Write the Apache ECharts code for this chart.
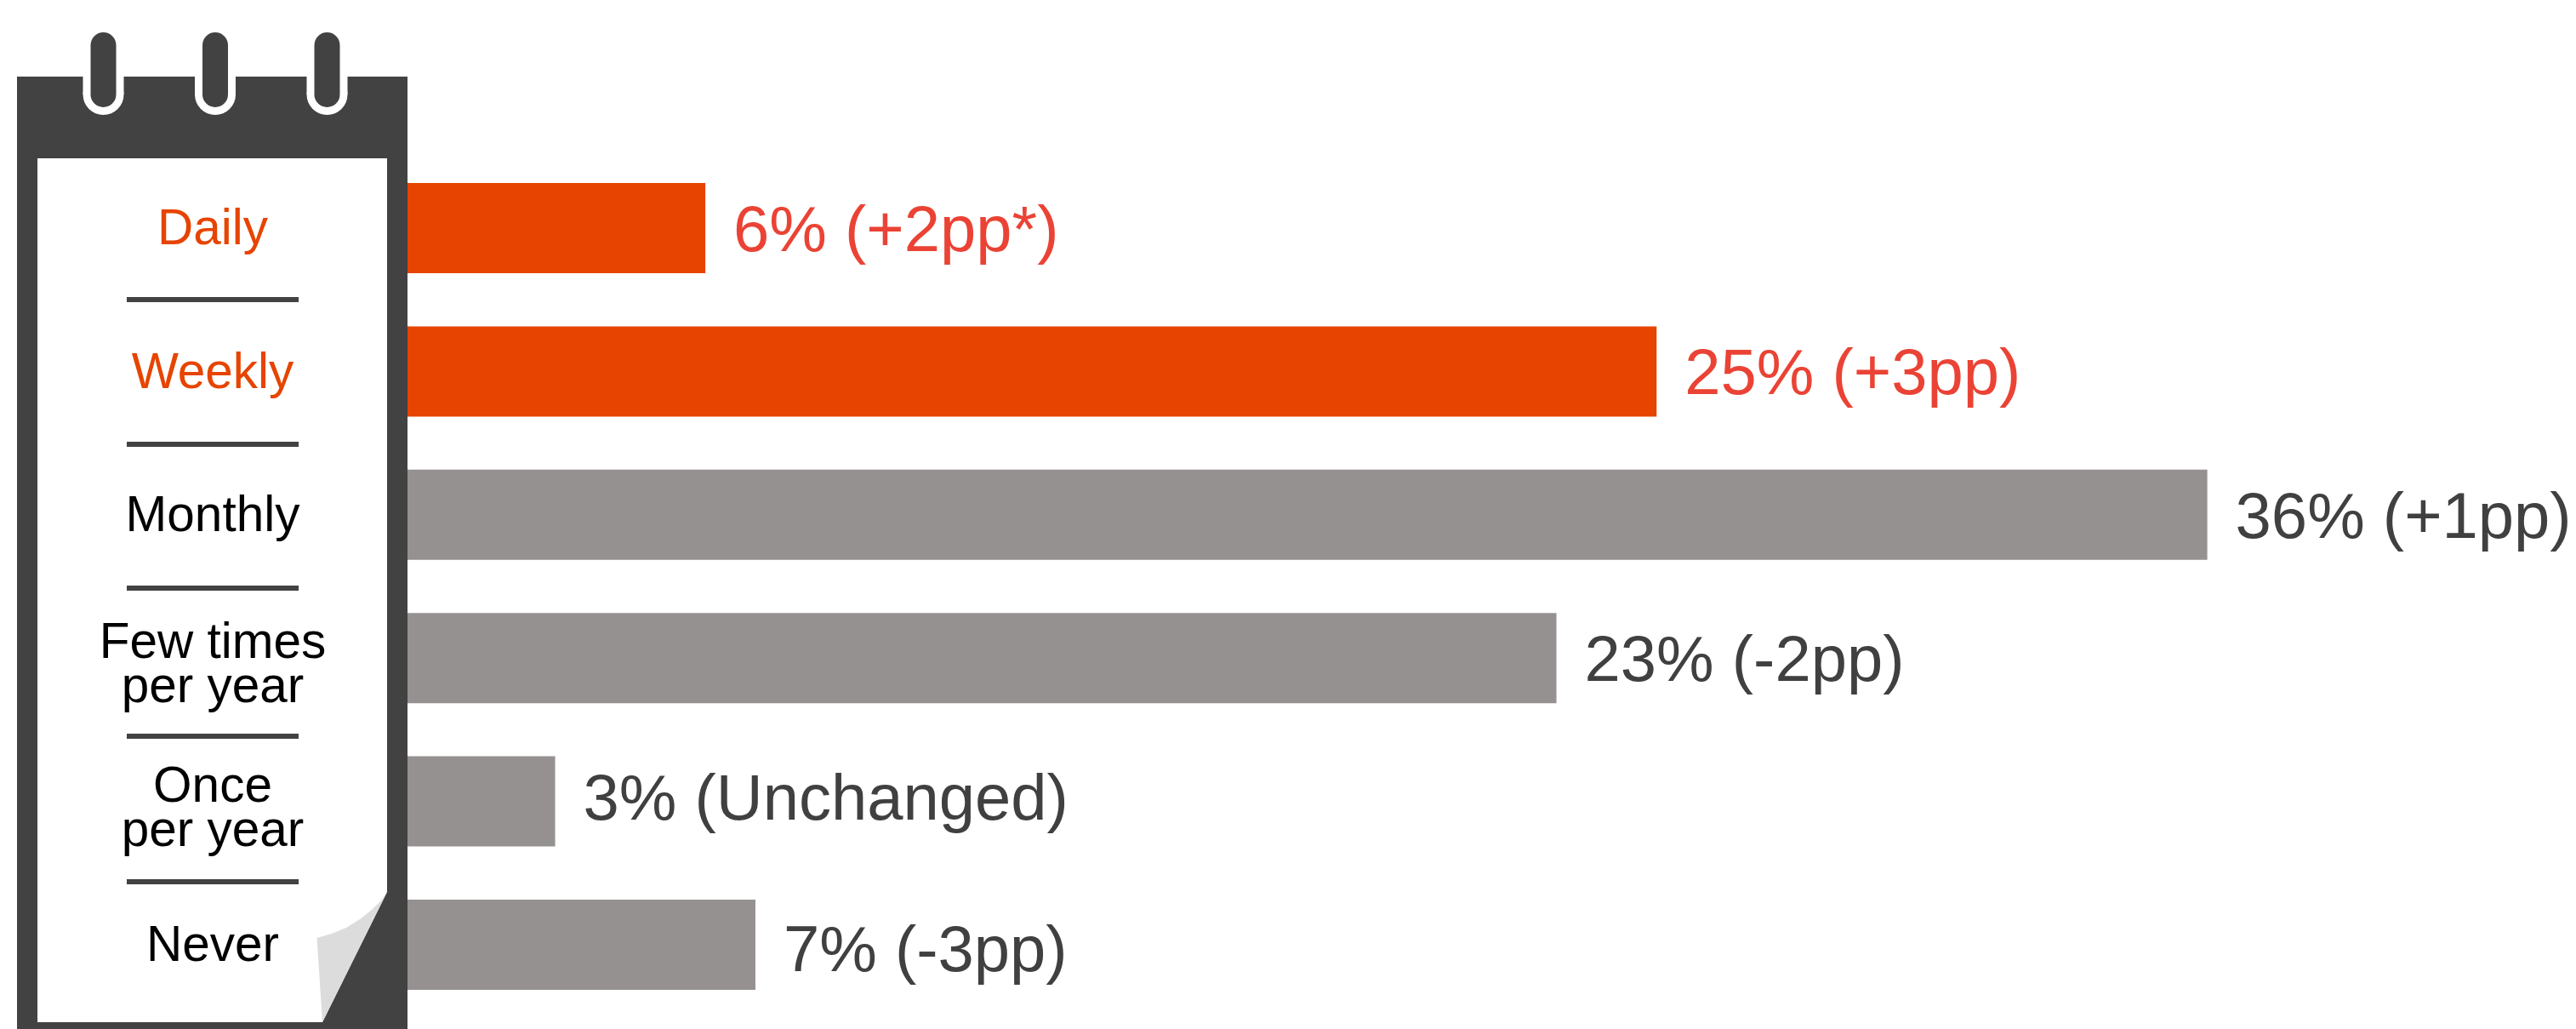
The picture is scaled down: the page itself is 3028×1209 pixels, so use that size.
<!DOCTYPE html>
<html><head><meta charset="utf-8">
<style>html,body{margin:0;padding:0;background:#fff}#c{width:3028px;height:1209px}</style>
<script src="https://cdn.jsdelivr.net/npm/echarts@6/dist/echarts.min.js"></script>
</head><body><div id="c"></div>
<script>
var categories = ['Daily','Weekly','Monthly','Few times\nper year','Once\nper year','Never'];
var values = [6,25,36,23,3,7];
var changes = ['(+2pp*)','(+3pp)','(+1pp)','(-2pp)','(Unchanged)','(-3pp)'];
var highlighted = ['Daily','Weekly'];

var DARK='#424242', ORANGE='#e64400', GREY='#959190', RED='#ea4335', TEXT='#404040';
var LABEL_DY=[6,6,6,6,0,10];
var chart = echarts.init(document.getElementById('c'),null,{renderer:'canvas'});

function rect(x,y,w,h,fill,z,r){return {type:'rect',silent:true,z:z,shape:{x:x,y:y,width:w,height:h,r:r||0},style:{fill:fill}};}
var deco=[rect(20,90,459,1119,DARK,-20)];
[121.5,253,384.5].forEach(function(cx){
  deco.push(rect(cx-24,80,48,31,'#fff',-19));
  deco.push({type:'circle',silent:true,z:-19,shape:{cx:cx,cy:111,r:24},style:{fill:'#fff'}});
  deco.push(rect(cx-15,38,30,88,DARK,-18,15));
});
deco.push({type:'polygon',silent:true,z:-17,shape:{points:[[44,186],[455,186],[455,1048],[379,1201],[44,1201]]},style:{fill:'#fff'}});
deco.push({type:'polygon',silent:true,z:-16,shape:{points:[[372.5,1102],[390,1097],[407,1090],[423,1080],[437,1069],[448,1058],[455,1048],[379,1201]]},style:{fill:'#dcdcdc'}});
[352,522,691,865,1036].forEach(function(y){deco.push(rect(149,y-3,202,6,DARK,-15));});
deco.push(rect(470,90,9,1119,DARK,10));

var F={fontFamily:'Liberation Sans',fontSize:58.5,lineHeight:52};
function tok(extra){var o={fontFamily:F.fontFamily,fontSize:F.fontSize,lineHeight:F.lineHeight};for(var k in extra)o[k]=extra[k];return o;}
chart.setOption({
  animation:false,
  backgroundColor:'#fff',
  graphic:{elements:deco},
  grid:{left:476,top:183.8,width:2354,height:1010.4,containLabel:false},
  xAxis:{type:'value',min:0,max:40,show:false},
  yAxis:{type:'category',inverse:true,data:categories,
    axisLine:{show:false},axisTick:{show:false},splitLine:{show:false},
    axisLabel:{margin:226,align:'center',fontFamily:F.fontFamily,fontSize:F.fontSize,lineHeight:F.lineHeight,interval:0,
      color:function(v){return highlighted.indexOf(v)>=0?ORANGE:'#000';},
      formatter:function(v){
        var parts=v.split('\n'), hi=highlighted.indexOf(v)>=0;
        if(parts.length>1) return '{sp| }\n{rest|'+parts[0]+'}\n{rest|'+parts[1]+'}';
        return '{'+(hi?'hot':'one')+'|'+v+'}';
      },
      rich:{sp:{fontSize:1,lineHeight:20},rest:tok({color:'#000'}),one:tok({padding:[6,0,0,0],color:'#000'}),hot:tok({padding:[6,0,0,0],color:ORANGE})}}},
  series:[{type:'bar',barWidth:106,
    data:values.map(function(v,i){var hi=highlighted.indexOf(categories[i])>=0;
      return {value:v,itemStyle:{color:hi?ORANGE:GREY},
        label:{color:hi?RED:TEXT,offset:[0,LABEL_DY[i]]}};}),
    label:{show:true,position:'right',distance:33,fontFamily:'Liberation Sans',fontSize:76,
      formatter:function(p){return values[p.dataIndex]+'% '+changes[p.dataIndex];}}}]
});
</script></body></html>
